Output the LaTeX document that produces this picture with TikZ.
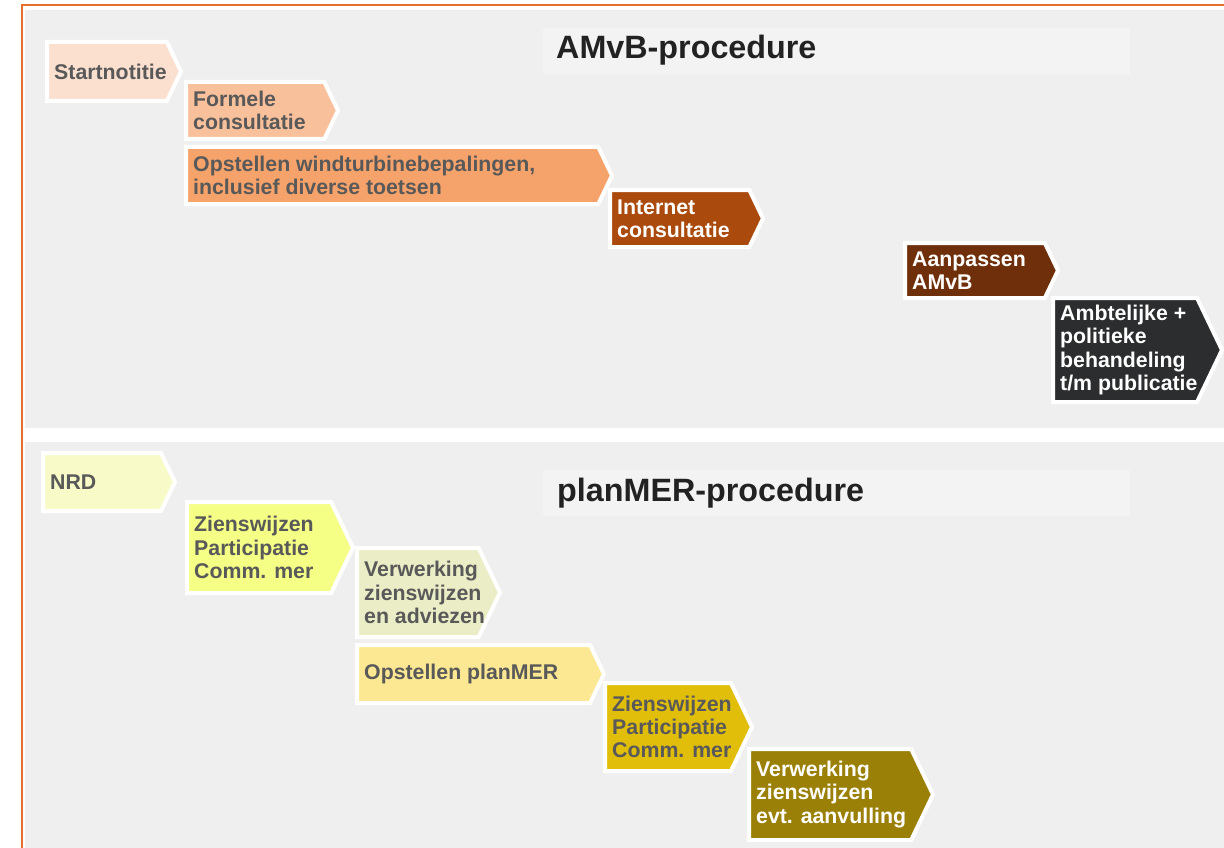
\documentclass[tikz,border=0pt]{standalone}
\usepackage{fontspec}
\setmainfont{Liberation Sans}
\definecolor{frameorange}{HTML}{E4702A}
\definecolor{panelgray}{HTML}{EFEFEF}
\definecolor{titlegray}{HTML}{F3F3F3}
\definecolor{txtgray}{HTML}{595959}
\definecolor{titletxt}{HTML}{222222}
\definecolor{cStart}{HTML}{FCE0CF}
\definecolor{cFormeel}{HTML}{F8C09B}
\definecolor{cOpst}{HTML}{F5A36B}
\definecolor{cInternet}{HTML}{AA4A0C}
\definecolor{cAanpas}{HTML}{6E2F0A}
\definecolor{cAmbt}{HTML}{2C2D2F}
\definecolor{cNrd}{HTML}{F8FBC8}
\definecolor{cZien}{HTML}{F5FF85}
\definecolor{cVerw}{HTML}{EBEDC6}
\definecolor{cPlan}{HTML}{FCE892}
\definecolor{cZienB}{HTML}{E0BE0A}
\definecolor{cVerwB}{HTML}{9A8006}
\tikzset{
  chev/.style={draw=white, line width=4pt, line join=miter},
  lbl/.style={anchor=west, align=left, inner sep=0pt,
    font=\bfseries\fontsize{21.3}{23.2}\selectfont},
  ttl/.style={anchor=west, inner sep=0pt, text=titletxt,
    font=\bfseries\fontsize{32.3}{35}\selectfont}
}
\begin{document}
\begin{tikzpicture}[x=1pt, y=-1pt]
      \useasboundingbox (0, 0) rectangle (1224, 848);
      % panels
      \fill[panelgray] (25, 10) rectangle (1224, 428)
                       (25, 442) rectangle (1224, 848);
      \draw[frameorange, line width=2pt] (1224, 5) -- (22, 5) -- (22, 848);
      \fill[titlegray] (543, 28) rectangle (1130, 75)
                       (543, 470) rectangle (1130, 516);
      \node[ttl] (amvb) at (556, 50) {AMvB-procedure};
      \node[ttl] (planmer) at (557, 493) {planMER-procedure};
      % chevrons: name/left/top/tip/bottom/fill/text
      \foreach \nm/\xa/\ya/\xb/\yb/\col/\tc/\txt in {
          start/47/42/181/101/cStart/txtgray/{Startnotitie},
          formeel/186/82/338/139/cFormeel/txtgray/{Formele\\consultatie},
          opst/186/147/612/204/cOpst/txtgray/{Opstellen windturbinebepalingen,\\inclusief diverse toetsen},
          internet/610/190/763/247/cInternet/white/{Internet\\consultatie},
          aanpas/905/243/1058/298/cAanpas/white/{Aanpassen\\AMvB},
          ambt/1053/298/1222/402/cAmbt/white/{Ambtelijke +\\politieke\\behandeling\\t/m publicatie},
          nrd/43/453/175/511/cNrd/txtgray/{NRD},
          zien/187/502/353/593/cZien/txtgray/{Zienswijzen\\Participatie\\Comm. mer},
          verw/357/548/500/637/cVerw/txtgray/{Verwerking\\zienswijzen\\en adviezen},
          plan/357/645/604/703/cPlan/txtgray/{Opstellen planMER},
          zienb/605/683/752/771/cZienB/txtgray/{Zienswijzen\\Participatie\\Comm. mer},
          verwb/749/749/933/840/cVerwB/white/{Verwerking\\zienswijzen\\evt. aanvulling}}
      {
        \pgfmathsetmacro\d{0.24*(\yb-\ya)}
        \pgfmathsetmacro\ym{(\ya+\yb)/2}
        \filldraw[chev, fill=\col] (\xa, \ya) -- (\xb-\d, \ya) -- (\xb, \ym)
              -- (\xb-\d, \yb) -- (\xa, \yb) -- cycle;
        \node[lbl, text=\tc] (\nm) at (\xa+7, \ym) {\txt};
      }
\end{tikzpicture}
\end{document}
